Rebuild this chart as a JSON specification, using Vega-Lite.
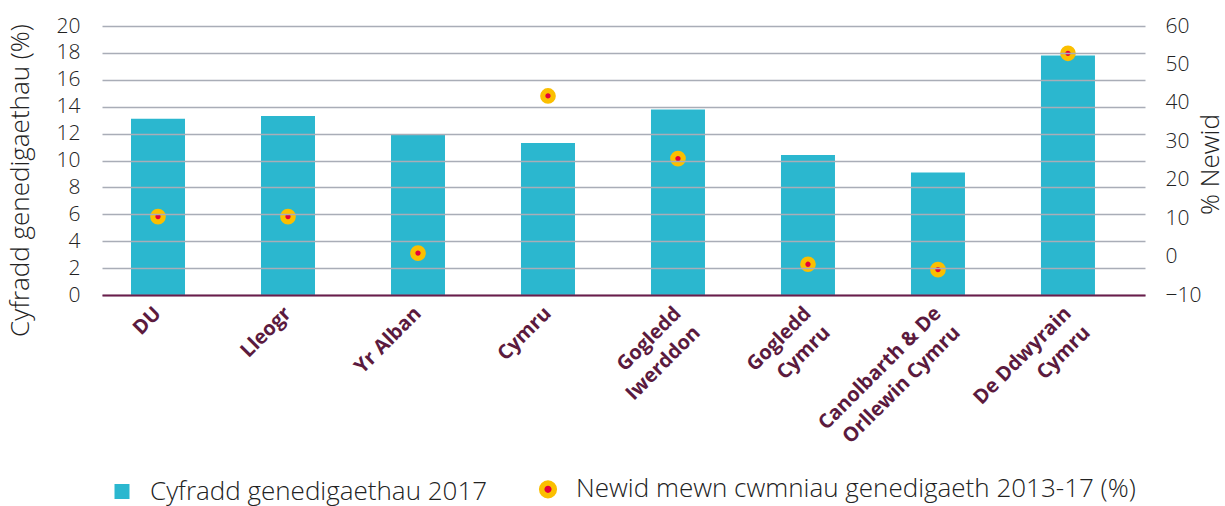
{
  "$schema": "https://vega.github.io/schema/vega-lite/v6.json",
  "autosize": "none",
  "width": 1043,
  "height": 269,
  "padding": {"left": 102, "top": 26, "right": 80, "bottom": 211},
  "background": "white",
  "config": {
    "view": {"stroke": null},
    "font": "Open Sans"
  },
  "data": {
    "values": [
      {"region": "DU", "rate": 13.1, "change": 10.4},
      {"region": "Lleogr", "rate": 13.3, "change": 10.4},
      {"region": "Yr Alban", "rate": 11.9, "change": 0.9},
      {"region": "Cymru", "rate": 11.3, "change": 41.8},
      {"region": "Gogledd\nIwerddon", "rate": 13.8, "change": 25.5},
      {"region": "Gogledd\nCymru", "rate": 10.4, "change": -2.0},
      {"region": "Canolbarth & De\nOrllewin Cymru", "rate": 9.1, "change": -3.4},
      {"region": "De Ddwyrain\nCymru", "rate": 17.8, "change": 52.9}
    ]
  },
  "encoding": {
    "x": {
      "field": "region",
      "type": "nominal",
      "sort": null,
      "scale": {"paddingInner": 0.5846, "paddingOuter": 0.304, "align": 0.367},
      "axis": {
        "title": null,
        "orient": "bottom",
        "domain": true,
        "domainColor": "#6a1d4b",
        "domainWidth": 2,
        "ticks": false,
        "grid": false,
        "labelAngle": -45,
        "labelAlign": "right",
        "labelBaseline": "middle",
        "labelFont": "Open Sans",
        "labelFontWeight": "bold",
        "labelFontSize": 20,
        "labelColor": "#5b1a3e",
        "labelPadding": 15,
        "labelLineHeight": 27,
        "labelLimit": 400,
        "labelExpr": "split(datum.label, '\\n')",
        "zindex": 2
      }
    }
  },
  "layer": [
    {
      "mark": {"type": "bar", "color": "#2bb7cf"},
      "encoding": {
        "y": {
          "field": "rate",
          "type": "quantitative",
          "scale": {"domain": [0, 20], "nice": false},
          "axis": {
            "orient": "left",
            "values": [0, 2, 4, 6, 8, 10, 12, 14, 16, 18, 20],
            "domain": false,
            "ticks": false,
            "grid": true,
            "gridColor": "#a9adb7",
            "gridWidth": 1.5,
            "labelFont": "Open Sans",
            "labelFontWeight": 300,
            "labelFontSize": 21,
            "labelColor": "#222222",
            "labelPadding": 22,
            "title": "Cyfradd genedigaethau (%)",
            "titleFont": "Open Sans",
            "titleFontWeight": 300,
            "titleFontSize": 26,
            "titleColor": "#222222",
            "titleX": -82,
            "titleY": 154,
            "titleAngle": -90,
            "titleAlign": "center",
            "titleBaseline": "middle",
            "zindex": 1
          }
        },
        "color": {
          "datum": "Cyfradd genedigaethau 2017",
          "type": "nominal",
          "scale": {
            "domain": ["Cyfradd genedigaethau 2017", "Newid mewn cwmniau genedigaeth 2013-17 (%)"],
            "range": ["#2bb7cf", "#e4003a"]
          },
          "legend": {
            "title": null,
            "orient": "none",
            "legendX": 7,
            "legendY": 450,
            "direction": "horizontal",
            "padding": 0,
            "columnPadding": 42,
            "labelFont": "Open Sans",
            "labelFontWeight": 300,
            "labelFontSize": 26,
            "labelColor": "#222222",
            "labelOffset": 15,
            "labelLimit": 900,
            "symbolSize": 225,
            "encode": {
              "symbols": {
                "update": {
                  "shape": {"signal": "datum.value === 'Cyfradd genedigaethau 2017' ? 'square' : 'circle'"},
                  "size": {"signal": "datum.value === 'Cyfradd genedigaethau 2017' ? 225 : 160"},
                  "stroke": {"signal": "datum.value === 'Cyfradd genedigaethau 2017' ? '#2bb7cf' : '#fbbf00'"},
                  "strokeWidth": {"signal": "datum.value === 'Cyfradd genedigaethau 2017' ? 0 : 5.5"},
                  "fill": {"signal": "datum.value === 'Cyfradd genedigaethau 2017' ? '#2bb7cf' : '#e4003a'"},
                  "opacity": {"value": 1}
                }
              }
            }
          }
        }
      }
    },
    {
      "mark": {"type": "point", "filled": true, "shape": "circle", "size": 110, "stroke": "#fbbf00", "strokeWidth": 5.2, "opacity": 1},
      "encoding": {
        "y": {
          "field": "change",
          "type": "quantitative",
          "scale": {"domain": [-10, 60], "nice": false},
          "axis": {
            "orient": "right",
            "values": [-10, 0, 10, 20, 30, 40, 50, 60],
            "domain": false,
            "ticks": false,
            "grid": false,
            "labelFont": "Open Sans",
            "labelFontWeight": 300,
            "labelFontSize": 21,
            "labelColor": "#222222",
            "labelPadding": 20,
            "title": "% Newid",
            "titleFont": "Open Sans",
            "titleFontWeight": 300,
            "titleFontSize": 26,
            "titleColor": "#222222",
            "titleX": 65,
            "titleY": 138,
            "titleAngle": -90,
            "titleAlign": "center",
            "titleBaseline": "middle"
          }
        },
        "color": {"datum": "Newid mewn cwmniau genedigaeth 2013-17 (%)", "type": "nominal"}
      }
    }
  ],
  "resolve": {"scale": {"y": "independent"}}
}
